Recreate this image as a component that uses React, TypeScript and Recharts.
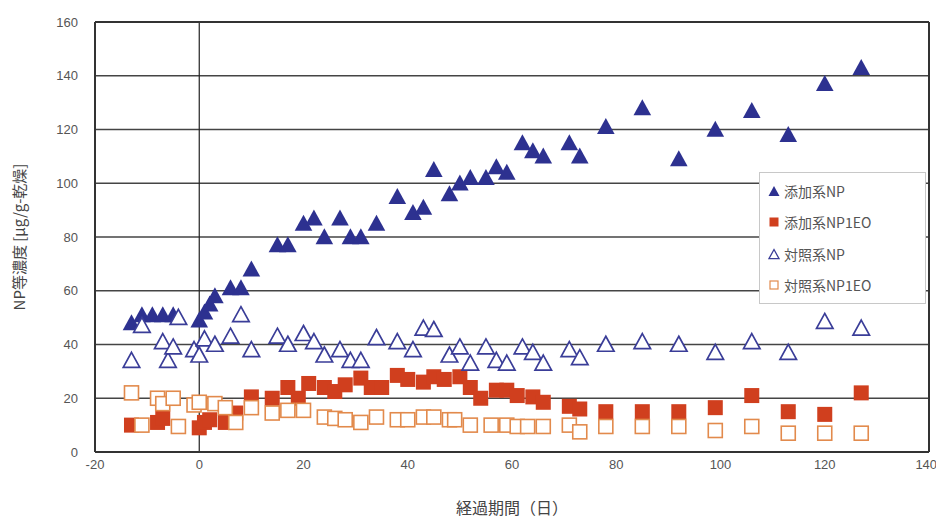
import { CartesianGrid, ReferenceLine, Scatter, ScatterChart, XAxis, YAxis } from 'recharts';

// 添加系NP (filled triangles)
const addedNpDays = [-13, -11, -9, -7, -5, 0, 1, 2, 3, 6, 8, 10, 15, 17, 20, 22, 24, 27, 29, 31, 34, 38, 41, 43, 45, 48, 50, 52, 55, 57, 59, 62, 64, 66, 71, 73, 78, 85, 92, 99, 106, 113, 120, 127];
const addedNpValues = [48, 51, 51, 51, 51, 49, 52, 55, 58, 61, 61, 68, 77, 77, 85, 87, 80, 87, 80, 80, 85, 95, 89, 91, 105, 96, 100, 102, 102, 106, 104, 115, 112, 110, 115, 110, 121, 128, 109, 120, 127, 118, 137, 143];

// 添加系NP1EO (filled squares)
const addedEoDays = [-13, -8, -7, 0, 1, 2, 5, 7, 10, 14, 17, 19, 21, 24, 26, 28, 31, 33, 35, 38, 40, 43, 45, 47, 50, 52, 54, 57, 59, 61, 64, 66, 71, 73, 78, 85, 92, 99, 106, 113, 120, 127];
const addedEoValues = [10, 11, 12.5, 9, 11, 12, 11, 14.5, 20.5, 20, 24, 20, 25.5, 24, 22.5, 25, 27.5, 24, 24, 28.5, 27, 26, 28, 27, 28, 24, 20, 23, 23, 21, 20.5, 18.5, 17, 16, 15, 15, 15, 16.5, 21, 15, 14, 22];

// 対照系NP (open triangles)
const controlNpDays = [-13, -11, -7, -6, -5, -4, -1, 0, 1, 3, 6, 8, 10, 15, 17, 20, 22, 24, 27, 29, 31, 34, 38, 41, 43, 45, 48, 50, 52, 55, 57, 59, 62, 64, 66, 71, 73, 78, 85, 92, 99, 106, 113, 120, 127];
const controlNpValues = [34, 47, 41, 34, 39, 50, 38, 36, 42, 40, 43, 51, 38, 43, 40, 44, 41, 36, 38, 34, 34, 42.5, 41, 38, 46, 45.5, 36, 39, 33, 39, 34, 33, 39, 37, 33, 38, 35, 40, 41, 40, 37, 41, 37, 48.5, 46];

// 対照系NP1EO (open squares)
const controlEoDays = [-13, -11, -8, -7, -5, -4, -1, 0, 3, 5, 7, 10, 14, 17, 20, 24, 26, 28, 31, 34, 38, 40, 43, 45, 48, 49, 52, 56, 59, 61, 63, 66, 71, 73, 78, 85, 92, 99, 106, 113, 120, 127];
const controlEoValues = [22, 10, 20, 18, 20, 9.5, 17.5, 18.5, 18, 16.5, 11, 16.5, 14.5, 15.5, 15.5, 13, 12.5, 12, 11, 13, 12, 12, 13, 13, 12, 12, 10, 10, 10, 9.5, 9.5, 9.5, 10, 7.5, 9.5, 9.5, 9.5, 8, 9.5, 7, 7, 7];

const xTicks = [-20, 0, 20, 40, 60, 80, 100, 120, 140];
const yTicks = [0, 20, 40, 60, 80, 100, 120, 140, 160];

const toPoints = (days: number[], values: number[]) =>
  days.map((d, i) => ({ day: d, value: values[i] }));

const NAVY = '#2d3190';
const RED = '#d03f1e';
const OPEN_BLUE = '#3a3d98';
const OPEN_ORANGE = '#e28a4c';
const JP_FONT = '"Noto Sans CJK JP", sans-serif';
const TICK_FONT = '"Liberation Sans", Arial, sans-serif';

const triangle = (cx: number, cy: number, s: number) =>
  `M${cx},${cy - s * 0.55} L${cx + s * 0.55},${cy + s * 0.45} L${cx - s * 0.55},${cy + s * 0.45} Z`;

const FilledTriangle = (props: any) => (
  <path d={triangle(props.cx, props.cy, 16)} fill={NAVY} />
);
const OpenTriangle = (props: any) => (
  <path d={triangle(props.cx, props.cy, 15)} fill="#fff" stroke={OPEN_BLUE} strokeWidth={1.7} />
);
const FilledSquare = (props: any) => (
  <rect x={props.cx - 7.5} y={props.cy - 7.5} width={15} height={15} fill={RED} />
);
const OpenSquare = (props: any) => (
  <rect x={props.cx - 7} y={props.cy - 7} width={14} height={14} fill="#fff" stroke={OPEN_ORANGE} strokeWidth={1.6} />
);

const legendItems = [
  { name: '添加系NP', kind: 'ft' },
  { name: '添加系NP1EO', kind: 'fs' },
  { name: '対照系NP', kind: 'ot' },
  { name: '対照系NP1EO', kind: 'os' },
];

const LegendIcon = ({ kind }: { kind: string }) => (
  <svg width={12} height={12} style={{ marginRight: 4 }}>
    {kind === 'ft' && <path d={triangle(6, 6.5, 10)} fill={NAVY} />}
    {kind === 'fs' && <rect x={1.5} y={1.5} width={9} height={9} fill={RED} />}
    {kind === 'ot' && <path d={triangle(6, 6.5, 9)} fill="#fff" stroke={OPEN_BLUE} strokeWidth={1.3} />}
    {kind === 'os' && <rect x={2} y={2} width={8} height={8} fill="#fff" stroke={OPEN_ORANGE} strokeWidth={1.2} />}
  </svg>
);

const LegendBox = () => (
  <div
    style={{
      position: 'absolute',
      left: 751,
      top: 164,
      background: '#fff',
      border: '1px solid #c8c8c8',
      padding: '2px 10px 2px 8px',
      fontFamily: JP_FONT,
      fontSize: 14,
      color: '#555',
      width: 147,
    }}
  >
    {legendItems.map((it) => (
      <div key={it.name} style={{ display: 'flex', alignItems: 'center', height: 31.5 }}>
        <LegendIcon kind={it.kind} />
        <span>{it.name}</span>
      </div>
    ))}
  </div>
);

export default function App() {
  return (
    <div style={{ position: 'relative', width: 928, height: 510 }}>
      <ScatterChart
        width={928}
        height={510}
        margin={{ top: 14, right: 7, left: 0, bottom: 26 }}
        style={{ background: '#fff' }}
      >
        <CartesianGrid vertical={false} stroke="#444" strokeWidth={1.6} />
        <XAxis
          type="number"
          dataKey="day"
          domain={[-20, 140]}
          ticks={xTicks}
          height={40}
          axisLine={{ stroke: '#333', strokeWidth: 2 }}
          tickLine={false}
          tick={{ fill: '#555', fontSize: 13, fontFamily: TICK_FONT }}
          allowDataOverflow
          label={{
            value: '経過期間（日）',
            position: 'insideBottom',
            offset: -22,
            style: { fill: '#444', fontSize: 16, fontFamily: JP_FONT },
          }}
        />
        <YAxis
          type="number"
          dataKey="value"
          domain={[0, 160]}
          ticks={yTicks}
          width={87}
          axisLine={{ stroke: '#333', strokeWidth: 2 }}
          tickLine={false}
          tickMargin={11}
          tick={{ fill: '#555', fontSize: 13, fontFamily: TICK_FONT }}
          label={{
            value: 'NP等濃度 [μg/g-乾燥]',
            angle: -90,
            position: 'insideLeft',
            offset: 12,
            style: { fill: '#444', fontSize: 15, fontFamily: JP_FONT, textAnchor: 'middle' },
          }}
        />
        <ReferenceLine x={0} stroke="#222" strokeWidth={1.2} />
        <ReferenceLine x={140} stroke="#333" strokeWidth={2} />
        <ReferenceLine y={160} stroke="#333" strokeWidth={2} />
        <Scatter name="添加系NP" data={toPoints(addedNpDays, addedNpValues)} shape={FilledTriangle} isAnimationActive={false} />
        <Scatter name="添加系NP1EO" data={toPoints(addedEoDays, addedEoValues)} shape={FilledSquare} isAnimationActive={false} />
        <Scatter name="対照系NP" data={toPoints(controlNpDays, controlNpValues)} shape={OpenTriangle} isAnimationActive={false} />
        <Scatter name="対照系NP1EO" data={toPoints(controlEoDays, controlEoValues)} shape={OpenSquare} isAnimationActive={false} />
      </ScatterChart>
      <LegendBox />
    </div>
  );
}
